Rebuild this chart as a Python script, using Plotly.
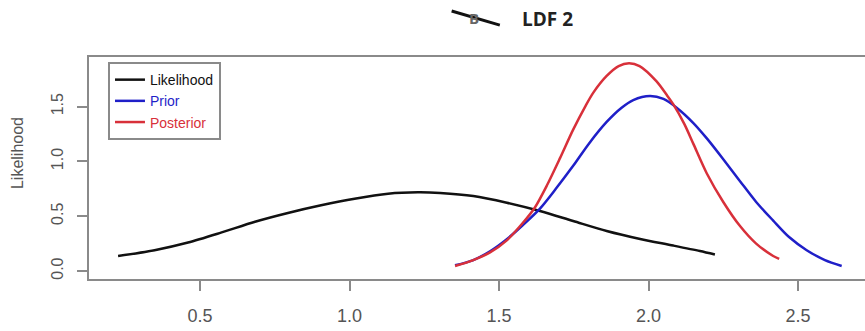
import plotly.graph_objects as go

# Density curves for LDF 2
lik_x = [0.226, 0.348, 0.46, 0.57, 0.684, 0.794, 0.905, 1.017, 1.129, 1.229,
         1.303, 1.414, 1.526, 1.637, 1.748, 1.860, 1.972, 2.083, 2.172, 2.222]
lik_y = [0.137, 0.19, 0.26, 0.35, 0.45, 0.53, 0.60, 0.66, 0.705, 0.718,
         0.712, 0.684, 0.623, 0.547, 0.456, 0.365, 0.292, 0.232, 0.182, 0.150]

prior_x = [1.353, 1.414, 1.47, 1.526, 1.58, 1.637, 1.69, 1.748, 1.80, 1.860,
           1.91, 1.949, 2.005, 2.05, 2.094, 2.15, 2.195, 2.25, 2.306, 2.36,
           2.417, 2.47, 2.529, 2.59, 2.646]
prior_y = [0.052, 0.10, 0.18, 0.29, 0.42, 0.57, 0.75, 0.96, 1.16, 1.36,
           1.49, 1.56, 1.597, 1.57, 1.49, 1.35, 1.21, 1.02, 0.82, 0.63,
           0.46, 0.31, 0.19, 0.10, 0.046]

post_x = [1.353, 1.414, 1.47, 1.526, 1.58, 1.62, 1.66, 1.704, 1.748, 1.79,
          1.816, 1.860, 1.90, 1.935, 1.97, 2.027, 2.06, 2.083, 2.12, 2.15,
          2.195, 2.25, 2.306, 2.36, 2.417, 2.437]
post_y = [0.046, 0.10, 0.17, 0.28, 0.44, 0.58, 0.78, 1.03, 1.29, 1.51,
          1.63, 1.78, 1.87, 1.895, 1.87, 1.73, 1.61, 1.52, 1.34, 1.16,
          0.89, 0.63, 0.41, 0.25, 0.137, 0.11]

x_ticks = [0.5, 1.0, 1.5, 2.0, 2.5]
x_tick_text = ["0.5", "1.0", "1.5", "2.0", "2.5"]
y_ticks = [0.0, 0.5, 1.0, 1.5]
y_tick_text = ["0.0", "0.5", "1.0", "1.5"]

FONT = "Liberation Sans, Arial, sans-serif"
GREY = "#555555"
FRAME = "#8a8a8a"

fig = go.Figure()
series = [
    (lik_x, lik_y, "Likelihood", "#111111"),
    (prior_x, prior_y, "Prior", "#1f1fc8"),
    (post_x, post_y, "Posterior", "#d8303a"),
]
for xs, ys, name, color in series:
    fig.add_trace(go.Scatter(
        x=xs, y=ys, mode="lines",
        line=dict(color=color, width=2.5, shape="spline", smoothing=0.8),
        name=f"<span style='color:{color}'>{name}</span>",
    ))

fig.update_layout(
    width=865, height=331,
    margin=dict(l=88, r=0, t=56, b=51),
    paper_bgcolor="white", plot_bgcolor="white",
    font=dict(family=FONT, color=GREY),
    showlegend=True,
    legend=dict(
        x=0.0257, y=0.973, xanchor="left", yanchor="top",
        bgcolor="white", bordercolor=FRAME, borderwidth=2,
        font=dict(family=FONT, size=14, color="#222"),
        tracegroupgap=0, itemwidth=30,
    ),
    xaxis=dict(
        range=[0.1254, 2.724], showgrid=False, zeroline=False, showline=False,
        tickmode="array", tickvals=x_ticks, ticktext=x_tick_text,
        ticks="outside", ticklen=10, tickwidth=1.5, tickcolor=FRAME,
        tickfont=dict(family=FONT, size=18, color=GREY),
        ticklabelstandoff=9,
    ),
    yaxis=dict(
        range=[-0.082, 1.962], showgrid=False, zeroline=False, showline=False,
        tickmode="array", tickvals=y_ticks, ticktext=y_tick_text,
        ticks="outside", ticklen=10, tickwidth=1.5, tickcolor=FRAME,
        tickangle=-90,
        tickfont=dict(family=FONT, size=16, color=GREY),
        ticklabelstandoff=8,
    ),
)

# Plot frame (open on the far right edge of the canvas)
fig.add_shape(type="rect", xref="paper", yref="paper",
              x0=0, x1=1.02, y0=0, y1=1,
              line=dict(color=FRAME, width=2), layer="above")

# Y axis label
fig.add_annotation(text="Likelihood", xref="paper", yref="paper",
                   x=-0.090, y=0.567, xanchor="center", yanchor="middle",
                   showarrow=False, textangle=-90,
                   font=dict(family=FONT, size=16, color=GREY))

# Title with struck-out letter
fig.add_annotation(text="<b>B</b>", xref="paper", yref="paper",
                   x=0.497, y=1.17, xanchor="center", yanchor="middle",
                   showarrow=False,
                   font=dict(family="Open Sans, sans-serif", size=15, color="#666"))
fig.add_shape(type="line", xref="paper", yref="paper",
              x0=0.468, y0=1.201, x1=0.530, y1=1.138,
              line=dict(color="#111", width=3))
fig.add_annotation(text="<b>LDF 2</b>", xref="paper", yref="paper",
                   x=0.592, y=1.165, xanchor="center", yanchor="middle",
                   showarrow=False,
                   font=dict(family="Open Sans, sans-serif", size=19, color="#222"))

fig.write_html("out.html")
